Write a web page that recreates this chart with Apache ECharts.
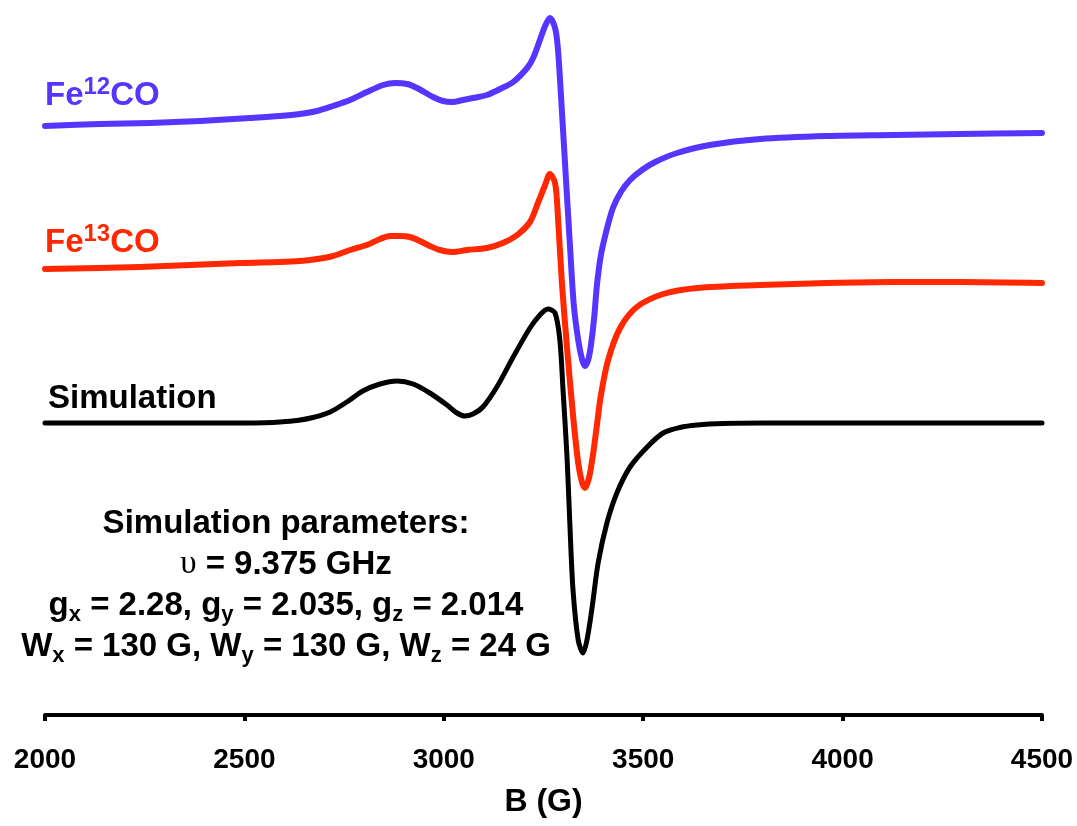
<!DOCTYPE html>
<html>
<head>
<meta charset="utf-8">
<script src="https://cdn.jsdelivr.net/npm/echarts/dist/echarts.min.js"></script>
<style>
  html, body { margin: 0; padding: 0; background: #fff; }
  #chart { width: 1077px; height: 826px; }
</style>
</head>
<body>
<div id="chart"></div>
<script>
// field values (G) and signal heights (arbitrary units, curves offset)
const b12 = [2000, 2138, 2263, 2389, 2514, 2589, 2639, 2682, 2722, 2765, 2807, 2848, 2878, 2908, 2933,
  2973, 2998, 3021, 3048, 3073, 3108, 3141, 3174, 3209, 3224, 3241, 3254, 3266, 3279, 3286,
  3296, 3306, 3316, 3326, 3337, 3347, 3354, 3362, 3369, 3377, 3384, 3394, 3407, 3424, 3444,
  3467, 3497, 3530, 3585, 3667, 3793, 3961, 4126, 4294, 4500];
const fe12 = [589, 591, 592, 594, 597, 599, 601, 604, 609, 615, 623, 630, 632, 631, 627,
  618, 614, 613, 615, 617, 620, 626, 633, 647, 657, 675, 689, 697, 687, 667,
  605, 538, 472, 410, 375, 355, 349, 355, 370, 397, 430, 460, 483, 507, 523,
  535, 545, 553, 562, 570, 576, 579, 580, 581, 582];

const b13 = [2000, 2238, 2489, 2589, 2639, 2682, 2722, 2765, 2807, 2840, 2865, 2890, 2915, 2940, 2965,
  2990, 3021, 3058, 3108, 3148, 3184, 3216, 3236, 3254, 3266, 3279, 3286, 3296, 3309, 3324,
  3337, 3347, 3354, 3364, 3374, 3384, 3394, 3412, 3442, 3484, 3550, 3635, 3793, 3961, 4126,
  4294, 4500];
const fe13 = [446, 448, 452, 453, 454, 456, 459, 465, 470, 476, 479, 479, 478, 474, 469,
  465, 463, 465, 467, 472, 480, 493, 512, 530, 541, 532, 500, 433, 367, 300,
  252, 232, 227, 237, 260, 290, 320, 355, 387, 408, 421, 427, 430, 432, 433,
  433, 432];

const bSim = [2000, 2400, 2500, 2550, 2589, 2632, 2672, 2715, 2757, 2797, 2840, 2883, 2923, 2965, 3008,
  3033, 3053, 3073, 3098, 3133, 3174, 3216, 3241, 3261, 3279, 3291, 3299, 3309, 3316, 3324,
  3337, 3349, 3359, 3372, 3387, 3409, 3434, 3467, 3510, 3550, 3592, 3635, 3700, 3800, 4500];
const sim = [292, 292, 292, 292.3, 293, 294.5, 297.5, 303, 313, 324, 331, 334, 331, 322, 310,
  302, 299, 301, 308, 328, 358, 387, 400, 406, 402, 375, 325, 258, 192, 125,
  75, 62, 75, 108, 152, 192, 222, 248, 268, 282, 287.5, 290, 291.5, 292, 292];

const xTicks = [2000, 2500, 3000, 3500, 4000, 4500];

const BLUE = '#5436ff';
const RED = '#ff2800';
const FONT = "'Liberation Sans', Arial, sans-serif";

function pairs(xs, ys) {
  return xs.map((x, i) => [x, ys[i]]);
}

function lineSeries(name, xs, ys, color, width) {
  return {
    name: name,
    type: 'line',
    data: pairs(xs, ys),
    showSymbol: false,
    smooth: 0.3,
    lineStyle: { color: color, width: width, cap: 'round', join: 'round' },
    itemStyle: { color: color },
    animation: false
  };
}

const big = { fontSize: 33, fontWeight: 'bold', fontFamily: FONT, lineHeight: 41, verticalAlign: 'middle' };
function rich(color) {
  return {
    n: Object.assign({ fill: color }, big),
    sup: { fill: color, fontSize: 24, fontWeight: 'bold', fontFamily: FONT, lineHeight: 22, verticalAlign: 'top' },
    sub: { fill: color, fontSize: 22, fontWeight: 'bold', fontFamily: FONT, lineHeight: 22, verticalAlign: 'bottom' },
    u: { fill: color, fontSize: 33, fontFamily: "'Liberation Serif', 'DejaVu Serif', serif", lineHeight: 41, verticalAlign: 'middle' }
  };
}

let option = {
  backgroundColor: '#fff',
  animation: false,
  grid: { left: 45, right: 35, top: 10, bottom: 111 },
  xAxis: {
    type: 'value',
    min: xTicks[0],
    max: xTicks[xTicks.length - 1],
    interval: 500,
    name: 'B (G)',
    nameLocation: 'middle',
    nameGap: 71,
    nameTextStyle: { fontSize: 32, fontWeight: 'bold', fontFamily: FONT, color: '#000' },
    axisLine: { lineStyle: { color: '#000', width: 4 } },
    axisTick: { length: 6, lineStyle: { color: '#000', width: 4 } },
    axisLabel: {
      fontSize: 28, fontWeight: 'bold', fontFamily: FONT, color: '#000', margin: 31,
      formatter: v => String(v)
    },
    splitLine: { show: false }
  },
  yAxis: {
    type: 'value',
    min: 0,
    max: 705,
    show: false
  },
  series: [
    lineSeries('Fe12CO', b12, fe12, BLUE, 6),
    lineSeries('Fe13CO', b13, fe13, RED, 6),
    lineSeries('Simulation', bSim, sim, '#000', 5)
  ],
  graphic: [
    {
      type: 'text', x: 45, y: 75,
      style: { text: '{n|Fe}{sup|12}{n|CO}', rich: rich(BLUE) }
    },
    {
      type: 'text', x: 45, y: 222,
      style: { text: '{n|Fe}{sup|13}{n|CO}', rich: rich(RED) }
    },
    {
      type: 'text', x: 48, y: 378,
      style: { text: '{n|Simulation}', rich: rich('#000') }
    },
    {
      type: 'text', x: 286, y: 503,
      style: {
        align: 'center',
        text: '{n|Simulation parameters:}\n' +
              '{u|υ}{n| = 9.375 GHz}\n' +
              '{n|g}{sub|x}{n| = 2.28, g}{sub|y}{n| = 2.035, g}{sub|z}{n| = 2.014}\n' +
              '{n|W}{sub|x}{n| = 130 G, W}{sub|y}{n| = 130 G, W}{sub|z}{n| = 24 G}',
        rich: rich('#000')
      }
    }
  ]
};

let mychart = echarts.init(document.getElementById('chart'));
mychart.setOption(option);
</script>
</body>
</html>
